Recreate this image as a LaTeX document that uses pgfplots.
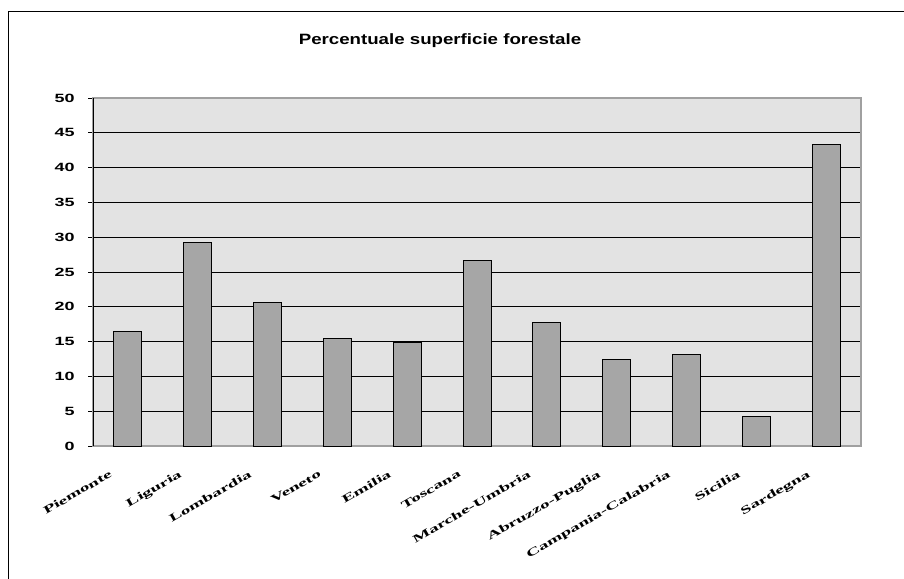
\documentclass[border=0pt]{standalone}
\usepackage{fontspec}
\usepackage{graphicx}
\usepackage{pgfplots}
\pgfplotsset{compat=1.18}
\setmainfont{Liberation Sans}
\newfontfamily\labfont{Liberation Serif}
\definecolor{barfill}{HTML}{A6A6A6}
\definecolor{plotbg}{HTML}{E3E3E3}
\definecolor{boxgray}{HTML}{A0A0A0}
\newcommand\lab[1]{\scalebox{1.75}[1]{#1}}

\pgfplotstableread{
idx val
0 16.5
1 29.2
2 20.6
3 15.4
4 14.8
5 26.7
6 17.7
7 12.4
8 13.2
9 4.2
10 43.3
}\forestdata

\begin{document}
\begin{tikzpicture}
\path[use as bounding box] (0,0) rectangle (904bp,-579bp);
% outer chart frame
\draw[black, line width=1bp] (8bp,-579bp) -- (8bp,-11bp) -- (904bp,-11bp);
\node[anchor=base, font=\bfseries\fontsize{15}{15}\selectfont]
  at (440bp,-44bp) {\scalebox{1.25}[1]{Percentuale superficie forestale}};
\begin{axis}[
    at={(93bp,-446bp)}, anchor=south west,
    scale only axis,
    width=768bp, height=348bp,
    ybar, bar width=28bp,
    xmin=-0.5, xmax=10.5,
    ymin=0, ymax=50,
    ytick={0,5,...,50},
    xtick=data,
    xticklabels={\lab{Piemonte},\lab{Liguria},\lab{Lombardia},\lab{Veneto},\lab{Emilia},\lab{Toscana},\lab{Marche-Umbria},\lab{Abruzzo-Puglia},\lab{Campania-Calabria},\lab{Sicilia},\lab{Sardegna}},
    xtick style={draw=none},
    ytick pos=left,
    tick align=outside,
    major tick length=5bp,
    ytick style={black, line width=1bp},
    ymajorgrids,
    major grid style={black, line width=1bp},
    axis line style={boxgray, line width=2bp},
    axis background/.style={fill=plotbg},
    yticklabel={\scalebox{1.5}[1]{\pgfmathprintnumber[assume math mode=true]{\tick}}},
    yticklabel style={font=\bfseries\fontsize{12}{12}\selectfont, xshift=-10bp},
    xticklabel style={font=\labfont\bfseries\fontsize{11}{11}\selectfont,
      xshift=-18bp, yshift=-14bp, rotate=30, anchor=north east},
    extra description/.code={
      \draw[black, line width=1bp] (rel axis cs:0,0) -- (rel axis cs:0,1);
    },
]
\addplot[fill=barfill, draw=black, line width=1bp] table[x=idx, y=val] {\forestdata};
\end{axis}
\end{tikzpicture}
\end{document}
